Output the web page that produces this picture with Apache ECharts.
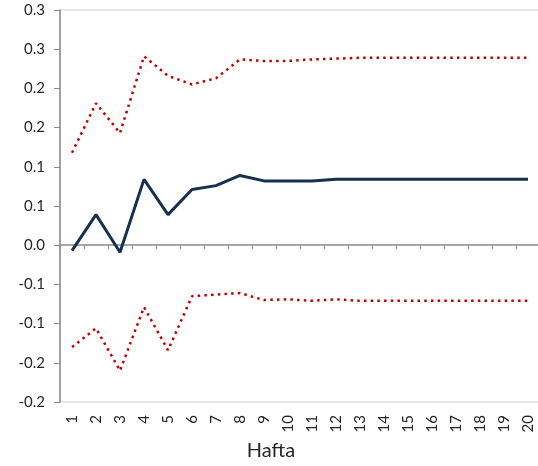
<!DOCTYPE html>
<html>
<head>
<meta charset="utf-8">
<script src="https://cdn.jsdelivr.net/npm/echarts@6/dist/echarts.min.js"></script>
<style>
  html, body { margin: 0; padding: 0; background: #ffffff; }
  #chart { width: 538px; height: 466px; }
</style>
</head>
<body>
<div id="chart"></div>
<script>
// Weeks on the x axis
const weeks = ['1','2','3','4','5','6','7','8','9','10','11','12','13','14','15','16','17','18','19','20'];

// Cumulative response (solid line)
const response = [-0.007, 0.039, -0.009, 0.084, 0.039, 0.071, 0.076, 0.089, 0.082, 0.082,
                  0.082, 0.084, 0.084, 0.084, 0.084, 0.084, 0.084, 0.084, 0.084, 0.084];

// Upper confidence band (dotted)
const upperBand = [0.118, 0.181, 0.143, 0.241, 0.216, 0.205, 0.213, 0.237, 0.235, 0.235,
                   0.237, 0.238, 0.239, 0.239, 0.239, 0.239, 0.239, 0.239, 0.239, 0.239];

// Lower confidence band (dotted)
const lowerBand = [-0.130, -0.106, -0.160, -0.079, -0.134, -0.065, -0.063, -0.061, -0.070, -0.069,
                   -0.071, -0.069, -0.071, -0.071, -0.071, -0.071, -0.071, -0.071, -0.071, -0.071];

// Value-axis ticks and their printed labels (one decimal place)
const yMin = -0.20;
const yMax = 0.30;
const yStep = 0.05;
const yTickLabels = ['-0.2', '-0.2', '-0.1', '-0.1', '0.0', '0.1', '0.1', '0.2', '0.2', '0.3', '0.3'];

const font = 'Lato, "Liberation Sans", sans-serif';
const axisGray = '#8a8a8a';

const chart = echarts.init(document.getElementById('chart'), null, { renderer: 'canvas' });

chart.setOption({
  animation: false,
  backgroundColor: '#ffffff',
  grid: {
    left: 60,
    width: 480,
    top: 10,
    bottom: 64,
    show: true,
    borderColor: '#cfcfcf',
    borderWidth: 1,
    containLabel: false,
    outerBoundsMode: 'none'
  },
  xAxis: [
    {
      // bottom axis carrying the week labels and the title
      type: 'category',
      position: 'bottom',
      data: weeks,
      boundaryGap: true,
      axisLine: { show: false, onZero: false },
      axisTick: { show: false },
      axisLabel: {
        rotate: 90,
        margin: 13,
        fontFamily: font,
        fontSize: 15,
        color: '#262626'
      },
      name: 'Hafta',
      nameLocation: 'middle',
      nameGap: 36,
      nameTextStyle: {
        fontFamily: font,
        fontSize: 20,
        color: '#262626',
        padding: [0, 58, 0, 0]
      },
      splitLine: { show: false }
    },
    {
      // zero line with category ticks hanging below it
      type: 'category',
      position: 'top',
      data: weeks,
      boundaryGap: true,
      axisLine: { show: true, onZero: true, lineStyle: { color: axisGray, width: 1.5 } },
      axisTick: { show: true, inside: true, length: 4, lineStyle: { color: axisGray, width: 1 } },
      axisLabel: { show: false },
      splitLine: { show: false }
    }
  ],
  yAxis: {
    type: 'value',
    min: yMin,
    max: yMax,
    interval: yStep,
    axisLine: { show: true, onZero: false, lineStyle: { color: axisGray, width: 1.5 } },
    axisTick: { show: true, length: 6, lineStyle: { color: axisGray, width: 1 } },
    axisLabel: {
      margin: 15,
      fontFamily: font,
      fontSize: 15,
      color: '#262626',
      formatter: function (v) {
        const i = Math.round((v - yMin) / yStep);
        return yTickLabels[i];
      }
    },
    splitLine: { show: false }
  },
  series: [
    {
      name: 'upper',
      type: 'line',
      xAxisIndex: 0,
      data: upperBand,
      symbol: 'none',
      lineStyle: { color: '#c00000', width: 2.5, type: [2.5, 4.2] },
      z: 3
    },
    {
      name: 'lower',
      type: 'line',
      xAxisIndex: 0,
      data: lowerBand,
      symbol: 'none',
      lineStyle: { color: '#c00000', width: 2.5, type: [2.5, 4.2] },
      z: 3
    },
    {
      name: 'response',
      type: 'line',
      xAxisIndex: 0,
      data: response,
      symbol: 'none',
      lineStyle: { color: '#17304f', width: 3 },
      z: 4
    }
  ]
});
</script>
</body>
</html>
